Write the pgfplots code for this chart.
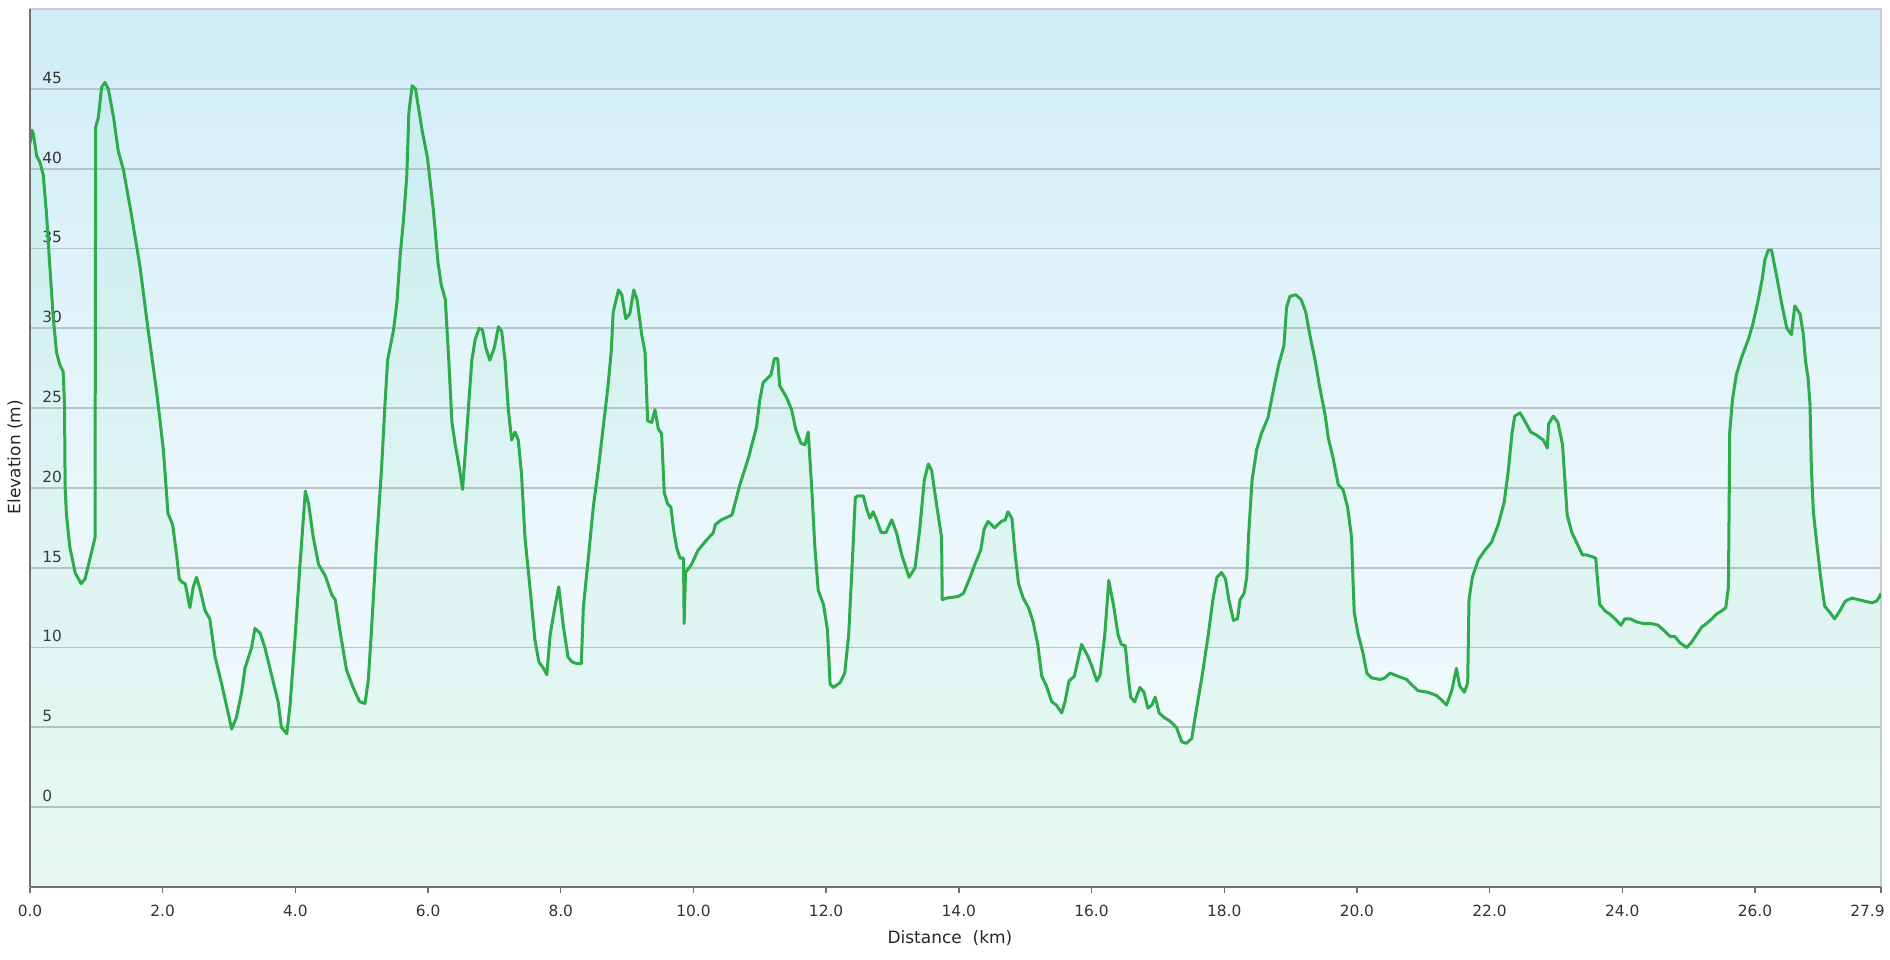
\documentclass[border=0pt]{standalone}
\usepackage{fontspec}
\setmainfont{DejaVu Sans}
\usepackage{pgfplots}
\usepackage{pgfplotstable}
\pgfplotsset{compat=1.18}
\definecolor{bgtop}{RGB}{208,237,249}
\definecolor{bgmid}{RGB}{232,246,252}
\definecolor{bgbot}{RGB}{244,251,252}
\definecolor{linec}{RGB}{44,172,74}
\definecolor{fillc}{RGB}{70,215,130}
\definecolor{gridc}{RGB}{186,196,200}
\definecolor{axisc}{RGB}{112,112,112}
\definecolor{framec}{RGB}{200,205,208}
\pgfplotstableread{
km elev
0.00 41.6
0.03 42.4
0.05 42.2
0.10 40.8
0.15 40.4
0.20 39.6
0.25 37.1
0.30 33.8
0.35 30.7
0.40 28.5
0.45 27.7
0.50 27.3
0.52 25.2
0.53 20.0
0.55 18.3
0.60 16.3
0.68 14.7
0.77 14.0
0.83 14.3
0.90 15.5
0.98 16.9
0.99 42.6
1.03 43.2
1.08 45.1
1.13 45.4
1.18 45.0
1.26 43.2
1.33 41.1
1.41 39.9
1.53 37.1
1.66 33.8
1.78 29.9
1.91 26.0
2.01 22.4
2.08 18.4
2.15 17.7
2.21 15.8
2.25 14.3
2.29 14.1
2.34 14.0
2.41 12.5
2.46 13.8
2.51 14.4
2.56 13.7
2.64 12.3
2.71 11.8
2.79 9.4
2.89 7.7
2.96 6.4
3.04 4.9
3.11 5.6
3.19 7.2
3.24 8.7
3.34 10.0
3.39 11.2
3.47 10.9
3.54 10.0
3.64 8.3
3.74 6.6
3.79 5.0
3.87 4.6
3.92 6.4
3.99 10.3
4.07 15.2
4.15 19.8
4.20 19.0
4.27 16.9
4.35 15.2
4.45 14.5
4.55 13.3
4.60 13.0
4.67 11.1
4.77 8.6
4.87 7.5
4.97 6.6
5.05 6.5
5.10 8.0
5.15 11.3
5.22 16.3
5.30 21.3
5.35 25.2
5.39 28.0
5.48 29.9
5.53 31.6
5.58 34.6
5.63 36.8
5.68 39.6
5.71 43.5
5.76 45.2
5.81 45.0
5.88 43.2
5.91 42.4
5.99 40.7
6.08 37.4
6.15 34.1
6.20 32.7
6.26 31.8
6.31 28.2
6.36 24.1
6.41 22.7
6.47 21.3
6.52 19.9
6.57 22.7
6.62 25.7
6.66 28.0
6.71 29.3
6.77 30.0
6.82 29.9
6.87 28.8
6.93 28.0
7.00 28.8
7.06 30.1
7.11 29.8
7.16 28.0
7.21 24.9
7.26 23.0
7.31 23.5
7.36 23.0
7.41 20.8
7.46 16.9
7.54 13.6
7.61 10.5
7.67 9.1
7.74 8.7
7.79 8.3
7.84 10.8
7.91 12.5
7.97 13.8
8.04 11.3
8.11 9.4
8.17 9.1
8.24 9.0
8.31 9.0
8.34 12.5
8.42 15.8
8.49 18.8
8.57 21.3
8.64 23.8
8.71 26.3
8.76 28.5
8.79 31.0
8.87 32.4
8.92 32.1
8.98 30.6
9.04 30.9
9.10 32.4
9.15 31.8
9.22 29.6
9.27 28.5
9.31 24.2
9.37 24.1
9.42 24.9
9.47 23.7
9.52 23.4
9.56 19.7
9.61 19.0
9.66 18.8
9.70 17.4
9.75 16.2
9.80 15.6
9.85 15.6
9.86 11.5
9.88 14.7
9.97 15.2
10.07 16.1
10.17 16.6
10.30 17.2
10.33 17.7
10.42 18.0
10.58 18.3
10.70 20.2
10.83 21.9
10.95 23.8
11.00 25.5
11.05 26.6
11.17 27.1
11.22 28.1
11.27 28.1
11.30 26.4
11.40 25.7
11.48 24.9
11.54 23.7
11.62 22.8
11.68 22.7
11.73 23.5
11.78 20.2
11.83 16.3
11.88 13.6
11.96 12.7
12.02 11.1
12.06 7.7
12.11 7.5
12.21 7.8
12.28 8.4
12.34 10.8
12.39 15.0
12.44 19.4
12.48 19.5
12.56 19.5
12.61 18.7
12.66 18.1
12.71 18.5
12.76 18.0
12.83 17.2
12.90 17.2
12.99 18.0
13.06 17.2
13.14 15.8
13.25 14.4
13.34 15.0
13.41 17.4
13.48 20.5
13.54 21.5
13.59 21.1
13.67 18.8
13.74 16.9
13.75 13.0
13.82 13.1
13.99 13.2
14.07 13.4
14.17 14.4
14.24 15.2
14.33 16.1
14.38 17.4
14.44 17.9
14.54 17.5
14.64 17.9
14.70 18.0
14.74 18.5
14.80 18.1
14.85 15.8
14.90 14.0
14.97 13.1
15.05 12.5
15.12 11.6
15.19 10.2
15.25 8.2
15.32 7.6
15.40 6.6
15.47 6.4
15.55 5.9
15.60 6.6
15.66 7.9
15.74 8.2
15.79 9.1
15.85 10.2
15.94 9.5
16.00 8.9
16.08 7.9
16.13 8.3
16.20 10.8
16.26 14.2
16.33 12.7
16.40 10.8
16.45 10.2
16.51 10.1
16.55 8.3
16.59 6.9
16.65 6.6
16.73 7.5
16.79 7.2
16.85 6.2
16.91 6.4
16.96 6.9
17.02 5.9
17.10 5.6
17.18 5.4
17.28 5.0
17.36 4.1
17.43 4.0
17.51 4.3
17.58 6.1
17.67 8.3
17.76 10.8
17.83 13.0
17.89 14.4
17.96 14.7
18.02 14.3
18.07 13.0
18.14 11.7
18.20 11.8
18.24 13.0
18.30 13.4
18.34 14.4
18.37 17.2
18.42 20.5
18.49 22.4
18.56 23.4
18.66 24.4
18.75 26.3
18.82 27.7
18.90 28.9
18.94 31.3
18.99 32.0
19.08 32.1
19.16 31.8
19.23 31.0
19.29 29.6
19.37 28.0
19.44 26.3
19.52 24.6
19.57 23.1
19.64 21.9
19.72 20.2
19.79 19.9
19.86 18.8
19.92 16.9
19.94 14.4
19.96 12.2
20.02 10.8
20.09 9.7
20.15 8.4
20.22 8.1
20.35 8.0
20.42 8.1
20.50 8.4
20.62 8.2
20.75 8.0
20.82 7.7
20.92 7.3
21.07 7.2
21.20 7.0
21.28 6.7
21.35 6.4
21.43 7.3
21.50 8.7
21.55 7.6
21.62 7.2
21.67 7.8
21.69 13.0
21.74 14.4
21.83 15.5
21.93 16.1
22.03 16.6
22.13 17.7
22.22 19.1
22.28 21.0
22.34 23.5
22.38 24.5
22.46 24.7
22.53 24.2
22.62 23.5
22.71 23.3
22.81 23.0
22.87 22.5
22.89 24.0
22.96 24.5
23.03 24.1
23.10 22.7
23.13 20.8
23.17 18.3
23.24 17.2
23.31 16.6
23.40 15.8
23.46 15.8
23.54 15.7
23.60 15.6
23.63 14.1
23.66 12.7
23.74 12.3
23.81 12.1
23.89 11.8
23.98 11.4
24.04 11.8
24.12 11.8
24.22 11.6
24.32 11.5
24.44 11.5
24.54 11.4
24.62 11.1
24.72 10.7
24.79 10.7
24.87 10.3
24.97 10.0
25.04 10.3
25.12 10.8
25.20 11.3
25.27 11.5
25.35 11.8
25.42 12.1
25.50 12.3
25.56 12.5
25.60 13.8
25.61 18.5
25.62 23.5
25.66 25.5
25.72 27.1
25.80 28.2
25.90 29.3
25.97 30.3
26.05 31.8
26.11 33.1
26.15 34.3
26.20 34.9
26.25 34.9
26.33 33.2
26.40 31.6
26.48 30.0
26.55 29.6
26.60 31.4
26.68 30.9
26.73 29.6
26.76 28.0
26.80 26.9
26.83 25.2
26.85 21.3
26.88 18.5
26.93 16.6
26.99 14.4
27.05 12.6
27.13 12.2
27.20 11.8
27.28 12.3
27.36 12.9
27.46 13.1
27.56 13.0
27.66 12.9
27.76 12.8
27.83 12.9
27.88 13.2
27.90 13.4
}\elev
\begin{document}
\begin{tikzpicture}
\useasboundingbox (0,0) rectangle (945pt,479.5pt);
\begin{axis}[
  at={(15pt,36pt)}, anchor=south west, scale only axis,
  width=925.5pt, height=439pt,
  xmin=0, xmax=27.9, ymin=-5, ymax=50,
  clip mode=individual,
  axis line style={framec, line width=0.6pt},
  axis background/.style={shade, top color=bgtop, bottom color=bgbot, middle color=bgmid},
  ytick={0,5,10,15,20,25,30,35,40,45},
  yticklabels={0,5,10,15,20,25,30,35,40,45},
  ymajorgrids, major grid style={gridc, line width=0.9pt},
  ytick style={draw=none},
  yticklabel style={anchor=south west, inner sep=0pt, xshift=9pt, yshift=2.5pt, font=\fontsize{7.7}{9}\selectfont, text=black!80},
  xtick={0,2,4,6,8,10,12,14,16,18,20,22,24,26},
  xticklabels={0.0,2.0,4.0,6.0,8.0,10.0,12.0,14.0,16.0,18.0,20.0,22.0,24.0,26.0},
  extra x ticks={27.9},
  extra x tick labels={27.9},
  extra x tick style={xticklabel style={anchor=north east, xshift=2pt}},
  xtick pos=bottom, tick align=outside, major tick length=3pt,
  xtick style={axisc, line width=0.7pt},
  xticklabel style={anchor=north, inner sep=0pt, yshift=-6pt, font=\fontsize{7.7}{9}\selectfont, text=black!80},
  xlabel={Distance\ \ (km)}, ylabel={Elevation (m)},
  every axis x label/.style={at={(axis description cs:0.497,-0.058)}, anchor=center, font=\fontsize{8.5}{10}\selectfont, text=black!85},
  every axis y label/.style={at={(axis description cs:-0.0081,0.4897)}, anchor=center, rotate=90, font=\fontsize{8.5}{10}\selectfont, text=black!85},
]
\addplot[fill=fillc, fill opacity=0.075, draw=none] table[x=km,y=elev]{\elev} -- (axis cs:27.9,-5) -- (axis cs:0,-5) -- cycle;
\addplot[draw=linec, line width=1.5pt, line join=round] table[x=km,y=elev]{\elev};
\draw[axisc, line width=1pt] (axis cs:0,-5) -- (axis cs:0,50);
\draw[axisc, line width=1.4pt] (axis cs:0,-5) -- (axis cs:27.9,-5);
\end{axis}
\end{tikzpicture}
\end{document}
